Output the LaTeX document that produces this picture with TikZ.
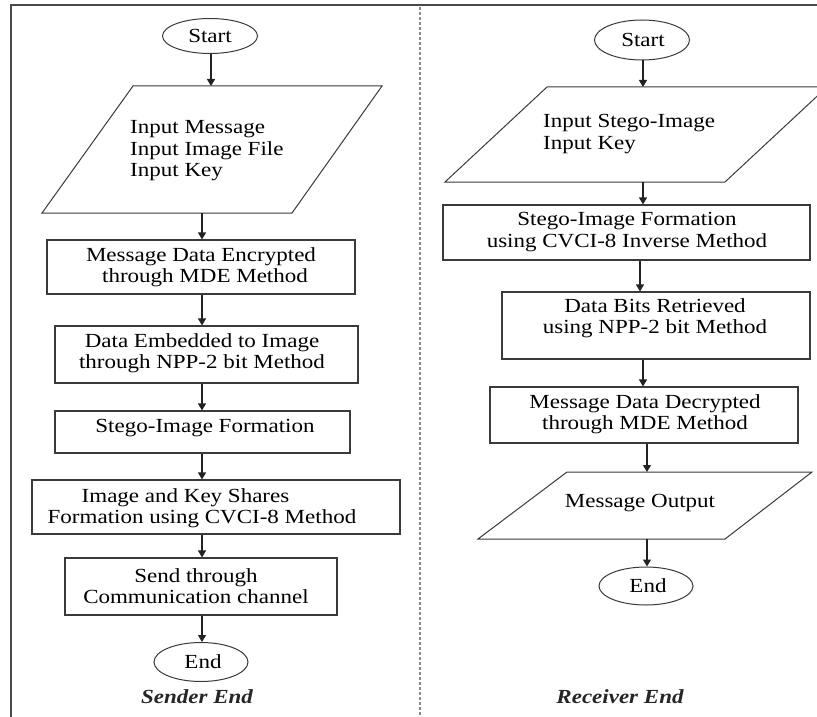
\documentclass[tikz,border=0pt]{standalone}
\usepackage{fontspec}
\setmainfont{Liberation Serif}[FakeStretch=1.15]
\usetikzlibrary{shapes.geometric,arrows.meta}
\definecolor{boxc}{HTML}{3A3A3A}
\definecolor{arrc}{HTML}{222222}
\definecolor{framec}{HTML}{4A4A4A}
\definecolor{sepc}{HTML}{8A8A8A}
\begin{document}
\begin{tikzpicture}[x=1pt,y=-1pt,
  term/.style={ellipse, draw=boxc, line width=1pt, inner sep=0pt},
  procbox/.style={rectangle, draw=boxc, line width=1.1pt, inner sep=0pt},
  paraline/.style={draw=boxc, line width=1pt, line join=miter},
  txt/.style={font=\fontsize{20}{21.5}\selectfont, align=center, inner sep=0pt, text=black},
  txtl/.style={font=\fontsize{20}{21.5}\selectfont, align=left, inner sep=0pt, text=black},
  lbl/.style={font=\fontsize{20}{22}\selectfont\bfseries\itshape, inner sep=0pt, text=black!85},
  arr/.style={draw=arrc, line width=1.2pt, -{Triangle[width=8pt,length=7pt]}},
  frame/.style={draw=framec, line width=1.8pt},
  sepline/.style={draw=sepc, line width=1.2pt, dash pattern=on 3pt off 2pt}]
\useasboundingbox (0,0) rectangle (817,717);
\fill[white] (0,0) rectangle (817,717);

% frame and separator
\draw[frame] (11,717) -- (11,5) -- (817,5);
\draw[sepline] (420,7) -- (420,717);

% ---------- Sender side ----------
\node[term, minimum width=95pt, minimum height=35pt] (ls) at (210,36) {};
\node[txt] (lst) at (210,36) {Start};

\draw[paraline] (133,86) -- (382,86) -- (292,213) -- (42,213) -- cycle;
\coordinate (lpT) at (211,86);
\coordinate (lpB) at (202,213);
\node[txtl, anchor=west] (lpt) at (130,151) {Input Message\\Input Image File\\Input Key};

\node[procbox, minimum width=308pt, minimum height=54pt] (lb1) at (201,267) {};
\node[txt] (lb1t) at (201,267) {Message Data Encrypted\\\hspace*{8pt}through MDE Method};

\node[procbox, minimum width=303pt, minimum height=57pt] (lb2) at (206.5,354.5) {};
\node[txt] (lb2t) at (202,353) {Data Embedded to Image\\through NPP-2 bit Method};

\node[procbox, minimum width=295pt, minimum height=42pt] (lb3) at (202.5,432) {};
\node[txt] (lb3t) at (205,428) {Stego-Image Formation};

\node[procbox, minimum width=368pt, minimum height=54pt] (lb4) at (216,507) {};
\node[txtl] (lb4t) at (202,508) {\hspace*{34pt}Image and Key Shares\\Formation using CVCI-8 Method};

\node[procbox, minimum width=272pt, minimum height=57pt] (lb5) at (201,586.5) {};
\node[txt] (lb5t) at (196,586) {Send through\\Communication channel};

\node[term, minimum width=94pt, minimum height=39pt] (le) at (201,662) {};
\node[txt] (let) at (203,662) {End};

\node[lbl] (sender) at (197,697) {Sender End};

\coordinate (lx) at (202,0);
\draw[arr] (ls.south -| lpT) -- (lpT);
\draw[arr] (lpB) -- (lb1.north -| lx);
\draw[arr] (lb1.south -| lx) -- (lb2.north -| lx);
\draw[arr] (lb2.south -| lx) -- (lb3.north -| lx);
\draw[arr] (lb3.south -| lx) -- (lb4.north -| lx);
\draw[arr] (lb4.south -| lx) -- (lb5.north -| lx);
\draw[arr] (lb5.south -| lx) -- (le.north -| lx);

% ---------- Receiver side ----------
\node[term, minimum width=95pt, minimum height=40pt] (rs) at (642,40) {};
\node[txt] (rst) at (643,40) {Start};

\draw[paraline] (547,87) -- (827,87) -- (725,182) -- (445,182) -- cycle;
\coordinate (rpT) at (643,87);
\coordinate (rpB) at (643,182);
\node[txtl, anchor=west] (rpt) at (543,134) {Input Stego-Image\\Input Key};

\node[procbox, minimum width=367pt, minimum height=55pt] (rb1) at (626.5,232.5) {};
\node[txt] (rb1t) at (627,232) {Stego-Image Formation\\using CVCI-8 Inverse Method};

\node[procbox, minimum width=308pt, minimum height=67pt] (rb2) at (656,325.5) {};
\node[txt] (rb2t) at (655,318) {Data Bits Retrieved\\using NPP-2 bit Method};

\node[procbox, minimum width=308pt, minimum height=56pt] (rb3) at (644,415) {};
\node[txt] (rb3t) at (645,414) {Message Data Decrypted\\through MDE Method};

\draw[paraline] (567,472) -- (812,472) -- (725,539) -- (478,539) -- cycle;
\coordinate (rp2T) at (647,472);
\coordinate (rp2B) at (647,539);
\node[txt] (rp2t) at (640,503) {Message Output};

\node[term, minimum width=94pt, minimum height=38pt] (re) at (646,586) {};
\node[txt] (ret) at (648,586) {End};

\node[lbl] (receiver) at (620,697) {Receiver End};

\coordinate (rx) at (643,0);
\coordinate (rxb) at (640,0);
\coordinate (rxc) at (647,0);
\draw[arr] (rs.south -| rx) -- (rpT);
\draw[arr] (rpB) -- (rb1.north -| rx);
\draw[arr] (rb1.south -| rxb) -- (rb2.north -| rxb);
\draw[arr] (rb2.south -| rx) -- (rb3.north -| rx);
\draw[arr] (rb3.south -| rxc) -- (rp2T);
\draw[arr] (rp2B) -- (re.north -| rxc);
\end{tikzpicture}
\end{document}
